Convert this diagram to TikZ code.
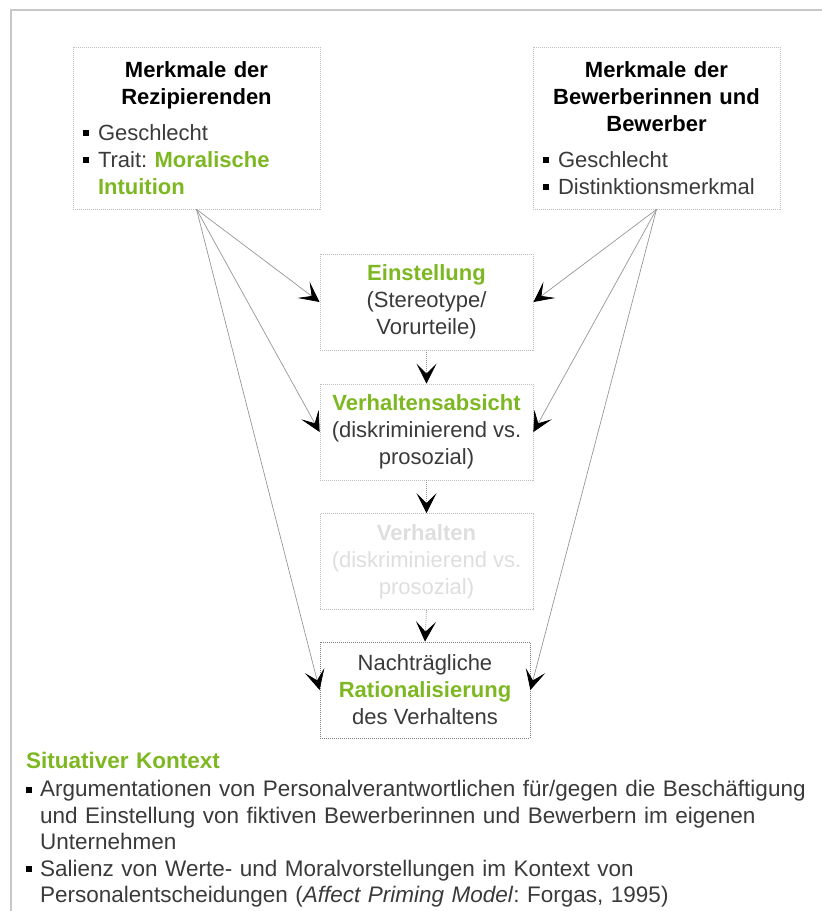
\documentclass[tikz,border=0pt]{standalone}
\usepackage{fontspec}
\setmainfont{Liberation Sans}
\usepackage{xcolor}
\usetikzlibrary{arrows.meta}
\definecolor{accent}{RGB}{125,183,33}
\definecolor{ink}{RGB}{58,58,58}
\definecolor{faded}{RGB}{222,222,222}
\definecolor{framegray}{RGB}{200,200,200}
\definecolor{dotgray}{RGB}{190,190,190}
\definecolor{wire}{RGB}{150,150,150}
\newcommand{\sqitem}[1][15pt]{\makebox[#1][l]{\textcolor{black}{\rule[4pt]{6pt}{6pt}}}}
\newcommand{\hl}[1]{{\bfseries\color{accent}#1}}
\newcommand{\headline}[1]{{\bfseries\color{black}#1}}

\begin{document}
\begin{tikzpicture}[x=1pt, y=-1pt,
  every node/.style={font=\fontsize{22}{27}\selectfont\frenchspacing, text=ink},
  box/.style={draw=dotgray, dash pattern=on 1pt off 1pt, line width=0.8pt,
    minimum width=213pt, minimum height=96pt, inner sep=0pt, align=center},
  topbox/.style={box, text width=227pt, inner xsep=10pt, minimum height=162pt},
  link/.style={draw=wire, line width=0.7pt,
    -{Stealth[length=20pt, width=20pt, inset=10pt, black]}},
  flowlink/.style={link, dash pattern=on 1pt off 1pt}]
\useasboundingbox (0,0) rectangle (822,911);
% frame
\draw[framegray, line width=1.2pt] (822,10) -- (11,10) -- (11,911);
% feature boxes
\node[topbox] (rezip) at (196.5,128) {%
  \centering\headline{Merkmale der\\Rezipierenden}\par
  \vspace{9pt}\raggedright
  \sqitem Geschlecht\\
  \sqitem Trait: \hl{Moralische}\\
  \hspace*{15pt}\hl{Intuition}\par};
\node[topbox] (bewerb) at (656.5,128) {%
  \centering\headline{Merkmale der\\Bewerberinnen und\\Bewerber}\par
  \vspace{9pt}\raggedright
  \sqitem Geschlecht\\
  \sqitem Distinktionsmerkmal\par};
% chain
\node[box] (einst) at (426.5,302) {\hl{Einstellung}\\(Stereotype/\\Vorurteile)};
\node[box] (absicht) at (426.5,432) {\hl{Verhaltensabsicht}\\(diskriminierend vs.\\prosozial)};
\node[box, text=faded] (verh) at (426.5,561.5) {{\bfseries Verhalten}\\(diskriminierend vs.\\prosozial)};
\node[box, draw=gray, minimum width=210pt] (rational) at (425,690) {Nachträgliche\\\hl{Rationalisierung}\\des Verhaltens};
\draw[flowlink] (einst.south) -- (absicht.north);
\draw[flowlink] (absicht.south) -- (verh.north);
\draw[flowlink] (verh.south) -- (rational.north);
% influences
\draw[link] (rezip.south) -- (einst.west);
\draw[link] (rezip.south) -- (absicht.west);
\draw[link] (rezip.south) -- (rational.west);
\draw[link] (bewerb.south) -- (einst.east);
\draw[link] (bewerb.south) -- (absicht.east);
\draw[link] (bewerb.south) -- (rational.east);
% context
\node[anchor=north west, text width=790pt, inner sep=0pt,
  font=\fontsize{22.5}{26.5}\selectfont\frenchspacing] (kontext) at (26,752) {%
  \raggedright
  \hl{Situativer Kontext}\par
  \vspace{1.5pt}
  \sqitem[14pt]Argumentationen von Personalverantwortlichen für/gegen die Beschäftigung\\
  \hspace*{14pt}und Einstellung von fiktiven Bewerberinnen und Bewerbern im eigenen\\
  \hspace*{14pt}Unternehmen\\
  \sqitem[14pt]Salienz von Werte- und Moralvorstellungen im Kontext von\\
  \hspace*{14pt}Personalentscheidungen (\textit{Affect Priming Model}: Forgas, 1995)\par};
\end{tikzpicture}
\end{document}
